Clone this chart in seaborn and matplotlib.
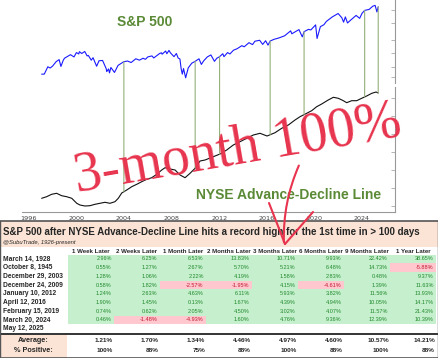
import numpy as np
import matplotlib
matplotlib.use("Agg")
import matplotlib.pyplot as plt
import seaborn as sns
import pandas as pd
from matplotlib.patches import ConnectionPatch, Rectangle, FancyArrowPatch
from matplotlib.lines import Line2D
from matplotlib.colors import ListedColormap
from matplotlib.ticker import MultipleLocator, FixedLocator, NullLocator

# S&P 500 (log scale, index points)
sp_years = [1997.08, 1997.3, 1997.6, 1997.8, 1998.0, 1998.3, 1998.55, 1998.7, 1998.9, 1999.0,
            1999.5, 1999.8, 2000.0, 2000.2, 2000.25, 2000.45, 2000.7, 2000.9, 2001.0, 2001.25,
            2001.4, 2001.7, 2001.9, 2002.2, 2002.5, 2002.55, 2002.7, 2002.78, 2002.9, 2003.2,
            2003.5, 2003.99, 2004.3, 2004.6, 2004.99, 2005.3, 2005.6, 2005.8, 2006.0, 2006.35,
            2006.5, 2006.99, 2007.15, 2007.2, 2007.5, 2007.6, 2007.78, 2007.9, 2008.2, 2008.4,
            2008.55, 2008.7, 2008.8, 2008.9, 2009.0, 2009.18, 2009.4, 2009.7, 2009.98, 2010.3,
            2010.5, 2010.7, 2011.0, 2011.3, 2011.6, 2011.8, 2012.03, 2012.3, 2012.4, 2012.7,
            2012.9, 2013.2, 2013.5, 2013.9, 2014.1, 2014.5, 2014.8, 2015.0, 2015.4, 2015.65,
            2015.9, 2016.1, 2016.28, 2016.6, 2017.0, 2017.5, 2018.0, 2018.1, 2018.7, 2018.98,
            2019.13, 2019.5, 2019.7, 2020.1, 2020.22, 2020.5, 2020.8, 2021.0, 2021.5, 2021.99,
            2022.3, 2022.45, 2022.6, 2022.78, 2023.0, 2023.5, 2023.8, 2024.0, 2024.22, 2024.6,
            2024.9, 2025.1, 2025.25, 2025.36]
sp_values = [760, 760, 950, 915, 970, 1110, 1180, 960, 1160, 1230,
             1370, 1280, 1460, 1400, 1500, 1420, 1510, 1320, 1340, 1160,
             1250, 965, 1140, 1150, 900, 820, 890, 790, 930, 800,
             990, 1110, 1130, 1080, 1210, 1160, 1230, 1190, 1280, 1320,
             1240, 1420, 1450, 1390, 1530, 1410, 1560, 1450, 1290, 1420,
             1240, 1200, 900, 760, 900, 680, 920, 1060, 1120, 1210,
             1020, 1140, 1280, 1360, 1120, 1230, 1290, 1410, 1290, 1460,
             1400, 1570, 1640, 1800, 1740, 1970, 1860, 2060, 2120, 1870,
             2090, 1830, 2070, 2180, 2270, 2430, 2820, 2580, 2930, 2350,
             2750, 2950, 2900, 3380, 2240, 3200, 3400, 3750, 4300, 4770,
             4200, 3670, 4300, 3580, 3850, 4500, 4120, 4800, 5240, 5400,
             5950, 6100, 5000, 5840]

# NYSE Advance-Decline line (arbitrary units)
ad_years = [1997.08, 1997.5, 1997.92, 1998.34, 1998.76, 1999.18, 1999.61, 2000.03, 2000.3, 2000.72,
            2001.14, 2001.56, 2001.98, 2002.4, 2002.82, 2003.24, 2003.52, 2003.81, 2004.23, 2004.65,
            2005.07, 2005.49, 2005.91, 2006.33, 2006.75, 2007.17, 2007.45, 2007.87, 2008.29, 2008.71,
            2009.13, 2009.55, 2009.97, 2010.39, 2010.81, 2011.23, 2011.65, 2012.07, 2012.63, 2013.18,
            2013.75, 2014.31, 2014.87, 2015.43, 2016.02, 2016.69, 2017.25, 2017.81, 2018.37, 2018.79,
            2019.35, 2019.77, 2020.19, 2020.61, 2021.16, 2021.59, 2022.01, 2022.43, 2022.71, 2023.13,
            2023.55, 2023.97, 2024.39, 2024.82, 2025.18, 2025.36]
ad_values = [7.7, 9.3, 11.7, 12.7, 10.3, 9.3, 7.7, 2.7, 1.0, 0.0,
             0.3, 1.7, 2.7, 3.7, 2.7, 4.3, 7.7, 13.0, 16.0, 19.3,
             21.7, 24.3, 26.7, 28.3, 31.7, 36.0, 38.3, 37.0, 36.0, 31.0,
             28.3, 32.7, 37.7, 45.0, 46.0, 48.0, 50.0, 52.0, 56.0, 61.0,
             64.3, 67.7, 71.0, 72.7, 70.0, 73.3, 77.7, 81.0, 86.0, 89.3,
             92.7, 95.3, 99.3, 102.0, 106.0, 108.7, 107.7, 105.3, 103.3, 105.3,
             105.3, 107.7, 110.0, 112.7, 114.0, 113.0]

# Signals table
signal_labels = ["March 14, 1928", "October 8, 1945", "December 29, 2003",
                 "December 24, 2009", "January 10, 2012", "April 12, 2016",
                 "February 15, 2019", "March 20, 2024", "May 12, 2025"]
signal_years = [1928.20, 1945.77, 2003.99, 2009.98, 2012.03, 2016.28, 2019.13, 2024.22, 2025.36]
column_labels = ["1 Week Later", "2 Weeks Later", "1 Month Later", "2 Months Later",
                 "3 Months Later", "6 Months Later", "9 Months Later", "1 Year Later"]
returns = [
    [2.96, 6.25, 6.53, 13.83, 10.71, 9.93, 22.42, 38.65],
    [0.55, 1.27, 2.67, 5.70, 5.21, 6.48, 14.73, -5.88],
    [1.28, 1.06, 2.22, 4.19, 1.58, 2.83, 0.48, 9.37],
    [0.58, 1.82, -2.57, -1.95, 4.15, -4.61, 1.39, 11.63],
    [1.24, 2.63, 4.63, 6.11, 5.93, 3.82, 11.56, 13.93],
    [1.90, 1.45, 0.13, 1.67, 4.39, 4.94, 10.05, 14.17],
    [0.74, 0.62, 2.05, 4.50, 3.02, 4.07, 11.57, 21.43],
    [0.46, -1.48, -4.93, 1.60, 4.76, 9.36, 12.39, 10.39],
    [np.nan] * 8,
]
average = [1.21, 1.70, 1.34, 4.46, 4.97, 4.60, 10.57, 14.21]
pct_positive = [100, 88, 75, 88, 100, 88, 100, 88]

W, H = 439, 358
GREEN_TXT = "#5b8a36"
RED = "#e8344e"


def fx(x):
    return x / W


def fy(y):
    return 1 - y / H


def main():
    sns.set_style("white")
    plt.rcParams["font.family"] = ["Liberation Sans", "DejaVu Sans"]
    fig = plt.figure(figsize=(W / 100, H / 100), dpi=100)

    # table background axes in pixel coords
    tab = fig.add_axes([0, 0, 1, 1], zorder=-1)
    tab.set_xlim(0, W)
    tab.set_ylim(H, 0)
    tab.axis("off")

    left, right = 22, 395
    ax_sp = fig.add_axes([fx(left), fy(83), (right - left) / W, 83 / H])
    ax_ad = fig.add_axes([fx(left), fy(212), (right - left) / W, 125 / H])
    xlim = (1995.43, 2026.77)

    sns.lineplot(x=sp_years, y=sp_values, ax=ax_sp, color="#1a1aff", linewidth=0.8)
    ax_sp.set_yscale("log")
    ax_sp.set_ylim(581, 7180)
    sns.lineplot(x=ad_years, y=ad_values, ax=ax_ad, color="#111111", linewidth=0.8)
    ax_ad.set_ylim(-6, 119)

    for ax in (ax_sp, ax_ad):
        ax.set_xlim(*xlim)
        ax.set_facecolor("none")
        for s in ("left", "top"):
            ax.spines[s].set_visible(False)
        ax.spines["right"].set_color("#999999")
        ax.spines["right"].set_linewidth(0.8)
        ax.yaxis.tick_right()
        ax.tick_params(axis="y", which="both", direction="in", length=3, width=0.5,
                       colors="#999999", labelright=False)
    ax_sp.spines["bottom"].set_visible(False)
    ax_sp.set_xticks([])
    ax_sp.yaxis.set_major_locator(FixedLocator([700, 950, 1440, 2140, 3570, 5300]))
    ax_sp.yaxis.set_minor_locator(NullLocator())
    ax_ad.yaxis.set_major_locator(MultipleLocator(18))
    ax_ad.spines["bottom"].set_color("#999999")
    ax_ad.spines["bottom"].set_linewidth(0.8)
    ax_ad.set_xticks(range(1996, 2025, 4))
    ax_ad.tick_params(axis="x", direction="out", length=2, width=0.5, colors="#999999",
                      labelcolor="#444444", labelsize=4.6, pad=1)
    for lab in ax_ad.get_xticklabels():
        lab.set_fontfamily("DejaVu Sans")
    ax_sp.set_xlabel("")
    ax_ad.set_xlabel("")

    # green connectors at each signal date
    for yr in signal_years:
        if yr < xlim[0]:
            continue
        sp_at = np.interp(yr, sp_years, sp_values)
        ad_at = np.interp(yr, ad_years, ad_values)
        con = ConnectionPatch(xyA=(yr, sp_at), coordsA=ax_sp.transData,
                              xyB=(yr, ad_at), coordsB=ax_ad.transData,
                              color="#94b07a", linewidth=0.8)
        fig.add_artist(con)

    fig.text(fx(145), fy(22), "S&P 500", color=GREEN_TXT, fontsize=10,
             fontweight="bold", ha="center", va="center")
    fig.text(fx(289), fy(195), "NYSE Advance-Decline Line", color=GREEN_TXT,
             fontsize=10, fontweight="bold", ha="center", va="center")

    # ---- table ----
    tab.add_patch(Rectangle((0, 221), W, 26, color="#fbe4d5", lw=0))
    tab.text(3, 232, "S&P 500 after NYSE Advance-Decline Line hits a record high for the 1st time in > 100 days",
             fontsize=7, fontweight="bold", ha="left", va="center")
    tab.text(3, 242.5, "@SubuTrade, 1926-present", fontsize=4.2, style="italic",
             ha="left", va="center")
    col_w = 46
    x0 = 68
    row_top = 254.65
    row_h = 8.7
    for i, c in enumerate(column_labels):
        tab.text(x0 + col_w * (i + 0.5), 251.2, c, fontsize=4.4, fontweight="bold",
                 ha="center", va="center")
    for j, lab in enumerate(signal_labels):
        tab.text(3, row_top + row_h * (j + 0.5), lab, fontsize=4.8, fontweight="bold",
                 ha="left", va="center")

    hm = fig.add_axes([fx(x0), fy(row_top + row_h * len(signal_labels)),
                       col_w * 8 / W, row_h * len(signal_labels) / H])
    df = pd.DataFrame(returns, index=signal_labels, columns=column_labels)
    annot = df.map(lambda v: "" if np.isnan(v) else f"{v:.2f}%")
    sns.heatmap(np.sign(df), cmap=ListedColormap(["#ffc7ce", "#c6efce"]), vmin=-1, vmax=1,
                cbar=False, annot=annot, fmt="", linewidths=0, ax=hm,
                xticklabels=False, yticklabels=False, annot_kws={"fontsize": 4})
    for t in hm.texts:
        x, y = t.get_position()
        t.set_x(x + 0.45)
        t.set_ha("right")
        t.set_color("#c0172d" if t.get_text().startswith("-") else "#1f8a2a")
    hm.axis("off")

    tab.plot([0, W], [333.8, 333.8], color="#333333", lw=1.4)
    tab.add_patch(Rectangle((0, 334.5), 67, 23, color="#fbe4d5", lw=0))
    tab.text(33, 340, "Average:", fontsize=5.2, fontweight="bold", ha="center", va="center")
    tab.text(33, 351, "% Positive:", fontsize=5.2, fontweight="bold", ha="center", va="center")
    for i, (a, p) in enumerate(zip(average, pct_positive)):
        xr = x0 + col_w * (i + 1) - 1
        tab.text(xr, 340, f"{a:.2f}%", fontsize=4.6, fontweight="bold", ha="right", va="center")
        tab.text(xr, 351, f"{p}%", fontsize=4.6, fontweight="bold", ha="right", va="center")
    tab.plot([0, W], [220.5, 220.5], color="#555555", lw=1.2)
    tab.plot([0.5, 0.5], [220.5, 357.5], color="#555555", lw=1.0)
    tab.plot([438.5, 438.5], [220.5, 357.5], color="#555555", lw=1.0)
    tab.plot([0, W], [357.5, 357.5], color="#555555", lw=1.2)

    # ---- handwritten red note ----
    fig.text(fx(238), fy(150), "3-month 100%", fontsize=40, family="Liberation Serif",
             color=RED, rotation=9.8, ha="center", va="center",
             rotation_mode="anchor", zorder=10)
    shaft = FancyArrowPatch(posA=(fx(300), fy(163)), posB=(fx(284), fy(245)),
                            transform=fig.transFigure, arrowstyle="-",
                            connectionstyle="arc3,rad=0.12", color=RED, lw=1.5, zorder=10)
    fig.add_artist(shaft)
    for (xa, ya) in [(269, 203), (313, 212)]:
        fig.add_artist(Line2D([fx(xa), fx(285)], [fy(ya), fy(244)], color=RED, lw=1.5,
                              transform=fig.transFigure, zorder=10,
                              solid_capstyle="round"))

    fig.savefig("out.png", dpi=100)


if __name__ == "__main__":
    main()
